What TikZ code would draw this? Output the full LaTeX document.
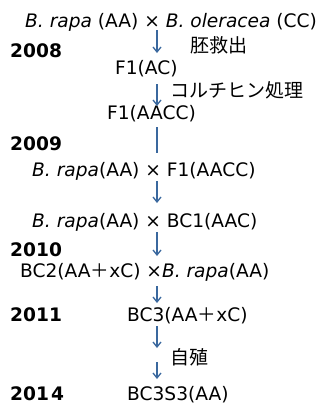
\documentclass[tikz,border=0pt]{standalone}
\usepackage{fontspec}
\setmainfont{DejaVu Sans}
\newfontfamily\cjk{Noto Sans CJK JP}
\usetikzlibrary{arrows.meta}
\definecolor{arr}{RGB}{58,104,158}
\begin{document}
\begin{tikzpicture}[x=1pt,y=-1pt,
  every node/.style={inner sep=0pt, font=\fontsize{18.6}{20}\selectfont},
  lab/.style={anchor=base west},
  yr/.style={anchor=base west, font=\fontsize{18.6}{20}\selectfont\bfseries},
  jp/.style={anchor=west, font=\fontsize{19}{20}\selectfont\cjk},
  flow/.style={draw=arr, line width=1.4pt, -{Straight Barb[length=5pt,width=8pt,line width=1.3pt]}},
  plain/.style={draw=arr, line width=1.4pt}]
\useasboundingbox (0,0) rectangle (322,405);
% texts
\node[lab] (p0) at (25,27) {\textit{B. rapa} (AA) × \textit{B. oleracea} (CC)};
\node[yr] (y08) at (10,57) {2008};
\node[jp] (j1) at (190,45) {胚救出};
\node[lab] (f1ac) at (115,74) {F1(AC)};
\node[jp] (j2) at (170,90) {コルチヒン処理};
\node[lab] (f1aacc) at (107,119.5) {F1(AACC)};
\node[yr] (y09) at (10,150) {2009};
\node[lab] (c1) at (32,176.7) {\textit{B. rapa}(AA) × F1(AACC)};
\node[lab] (c2) at (32,227) {\textit{B. rapa}(AA) × BC1(AAC)};
\node[yr] (y10) at (10,256) {2010};
\node[lab] (c3) at (20,277.5) {BC2(AA{\cjk ＋}xC) ×\textit{B. rapa}(AA)};
\node[yr] (y11) at (10,321) {2011};
\node[lab] (bc3) at (127,321) {BC3(AA{\cjk ＋}xC)};
\node[jp] (j3) at (170,357) {自殖};
\node[yr] (y14) at (10,400) {201\hspace{2pt}4};
\node[lab] (bc3s3) at (127,400) {BC3S3(AA)};
% connector ends
\coordinate (a1s) at (157,30);  \coordinate (a1e) at (157,53);
\coordinate (a2s) at (157,84);  \coordinate (a2e) at (157,106);
\coordinate (l1s) at (157,127); \coordinate (l1e) at (157,153);
\coordinate (a3s) at (157,181); \coordinate (a3e) at (157,203);
\coordinate (a4s) at (157,232); \coordinate (a4e) at (157,256);
\coordinate (a5s) at (157,286); \coordinate (a5e) at (157,303);
\coordinate (a6s) at (157,326); \coordinate (a6e) at (157,348);
\coordinate (a7s) at (157,362); \coordinate (a7e) at (157,379);
\draw[flow] (a1s) -- (a1e);
\draw[flow] (a2s) -- (a2e);
\draw[plain] (l1s) -- (l1e);
\draw[flow] (a3s) -- (a3e);
\draw[flow] (a4s) -- (a4e);
\draw[flow] (a5s) -- (a5e);
\draw[flow] (a6s) -- (a6e);
\draw[flow] (a7s) -- (a7e);
\end{tikzpicture}
\end{document}
